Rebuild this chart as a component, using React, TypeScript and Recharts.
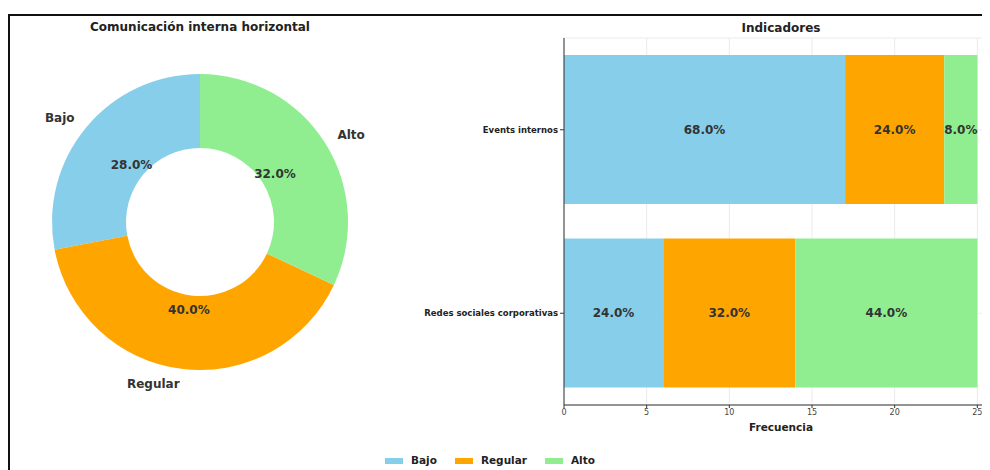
import React from 'react';
import {
  PieChart,
  Pie,
  Cell,
  Legend,
  BarChart,
  Bar,
  XAxis,
  YAxis,
  CartesianGrid,
  LabelList,
} from 'recharts';

const levels = ['Bajo', 'Regular', 'Alto'];
const colors = ['#87CEEB', '#FFA500', '#90EE90'];
const pieValues = [28, 40, 32];

const indicators = ['Events internos', 'Redes sociales corporativas'];
const bajoCounts = [17, 6];
const regularCounts = [6, 8];
const altoCounts = [2, 11];
const xTicks = [0, 5, 10, 15, 20, 25];

const pieData = levels.map((name, i) => ({ name, value: pieValues[i] }));
const barData = indicators.map((name, i) => ({
  name,
  Bajo: bajoCounts[i],
  Regular: regularCounts[i],
  Alto: altoCounts[i],
}));

const FONT = '"DejaVu Sans", Verdana, sans-serif';
const RAD = Math.PI / 180;

const renderPieLabel = (p: any) => {
  const { cx, cy, midAngle, outerRadius, percent, name } = p;
  const c = Math.cos(-midAngle * RAD);
  const s = Math.sin(-midAngle * RAD);
  const ro = outerRadius * 1.1;
  const ri = outerRadius * 0.6;
  return (
    <g>
      <text
        x={cx + ro * c}
        y={cy + ro * s}
        textAnchor={c >= 0 ? 'start' : 'end'}
        dominantBaseline="central"
        fontFamily={FONT}
        fontSize={12}
        fontWeight="bold"
        fill="#333"
      >
        {name}
      </text>
      <text
        x={cx + ri * c}
        y={cy + ri * s}
        textAnchor="middle"
        dominantBaseline="central"
        fontFamily={FONT}
        fontSize={12}
        fontWeight="bold"
        fill="#333"
      >
        {(percent * 100).toFixed(1)}%
      </text>
    </g>
  );
};

const makeBarLabel = (key: 'Bajo' | 'Regular' | 'Alto') => (p: any) => {
  const { x, y, width, height, index } = p;
  const row = barData[index];
  const total = row.Bajo + row.Regular + row.Alto;
  const pct = ((row[key] / total) * 100).toFixed(1) + '%';
  return (
    <text
      x={Number(x) + Number(width) / 2}
      y={Number(y) + Number(height) / 2}
      textAnchor="middle"
      dominantBaseline="central"
      fontFamily={FONT}
      fontSize={12}
      fontWeight="bold"
      fill="#333"
    >
      {pct}
    </text>
  );
};

const renderLegend = (props: any) => {
  const payload = [...(props.payload || [])].sort(
    (a: any, b: any) => levels.indexOf(a.value) - levels.indexOf(b.value)
  );
  return (
    <div style={{ display: 'flex', alignItems: 'center', fontFamily: FONT }}>
      {payload.map((e: any) => {
        const idx = levels.indexOf(e.value);
        return (
          <div key={e.value} style={{ display: 'flex', alignItems: 'center', marginRight: 18 }}>
            <span
              style={{
                display: 'inline-block',
                width: 18,
                height: 6,
                background: colors[idx],
                marginRight: 8,
              }}
            />
            <span style={{ fontSize: 10.5, fontWeight: 'bold', color: '#222', lineHeight: '13px' }}>
              {e.value}
            </span>
          </div>
        );
      })}
    </div>
  );
};

export default function App() {
  return (
    <div
      style={{
        position: 'relative',
        width: 982,
        height: 462,
        overflow: 'hidden',
        fontFamily: FONT,
        background: '#fff',
      }}
    >
      <style>{'html,body{overflow:hidden;}'}</style>
      <div
        style={{
          position: 'absolute',
          left: 0,
          top: 6,
          width: 1200,
          height: 600,
          borderLeft: '2px solid #111',
          borderTop: '2px solid #111',
        }}
      />
      <div
        style={{
          position: 'absolute',
          left: 0,
          top: 12,
          width: 384,
          textAlign: 'center',
          fontSize: 12,
          fontWeight: 'bold',
          color: '#222',
          lineHeight: '14px',
        }}
      >
        Comunicación interna horizontal
      </div>
      <div
        style={{
          position: 'absolute',
          left: 573,
          top: 13,
          width: 400,
          textAlign: 'center',
          fontSize: 12,
          fontWeight: 'bold',
          color: '#222',
          lineHeight: '14px',
        }}
      >
        Indicadores
      </div>
      <div style={{ position: 'absolute', left: 0, top: 0 }}>
        <BarChart
          width={992}
          height={462}
          data={barData}
          layout="vertical"
          margin={{ top: 30, right: 2, bottom: 39, left: 0 }}
        >
          <CartesianGrid stroke="#ebebeb" />
          <XAxis
            type="number"
            domain={[0, 26.25]}
            ticks={xTicks}
            allowDataOverflow
            tick={{ fontSize: 8, fill: '#444', fontFamily: FONT }}
            tickSize={3}
            tickMargin={1}
            axisLine={{ stroke: '#333' }}
            tickLine={{ stroke: '#333' }}
            height={26}
            label={{
              value: 'Frecuencia',
              position: 'insideBottom',
              offset: 0,
              style: { fontSize: 10.5, fontWeight: 'bold', fill: '#222', fontFamily: FONT },
            }}
          />
          <YAxis
            type="category"
            dataKey="name"
            width={556}
            tick={{ fontSize: 8.5, fontWeight: 'bold', fill: '#222', fontFamily: FONT }}
            tickSize={4}
            tickMargin={2}
            axisLine={{ stroke: '#333' }}
            tickLine={{ stroke: '#333' }}
          />
          <Bar dataKey="Bajo" stackId="a" fill={colors[0]} barSize={149} isAnimationActive={false}>
            <LabelList dataKey="Bajo" content={makeBarLabel('Bajo')} />
          </Bar>
          <Bar dataKey="Regular" stackId="a" fill={colors[1]} barSize={149} isAnimationActive={false}>
            <LabelList dataKey="Regular" content={makeBarLabel('Regular')} />
          </Bar>
          <Bar dataKey="Alto" stackId="a" fill={colors[2]} barSize={149} isAnimationActive={false}>
            <LabelList dataKey="Alto" content={makeBarLabel('Alto')} />
          </Bar>
        </BarChart>
      </div>
      <div style={{ position: 'absolute', left: 0, top: 0 }}>
        <PieChart width={982} height={462} margin={{ top: 0, right: 0, bottom: 0, left: 0 }}>
          <Pie
            data={pieData}
            dataKey="value"
            nameKey="name"
            cx={192}
            cy={214}
            innerRadius={74}
            outerRadius={148}
            startAngle={90}
            endAngle={450}
            stroke="none"
            label={renderPieLabel}
            labelLine={false}
            isAnimationActive={false}
          >
            {pieData.map((d, i) => (
              <Cell key={d.name} fill={colors[i]} />
            ))}
          </Pie>
          <Legend
            verticalAlign="bottom"
            content={renderLegend}
            wrapperStyle={{ position: 'absolute', left: 377, top: 446, bottom: 'auto', width: 'auto' }}
          />
        </PieChart>
      </div>
    </div>
  );
}
